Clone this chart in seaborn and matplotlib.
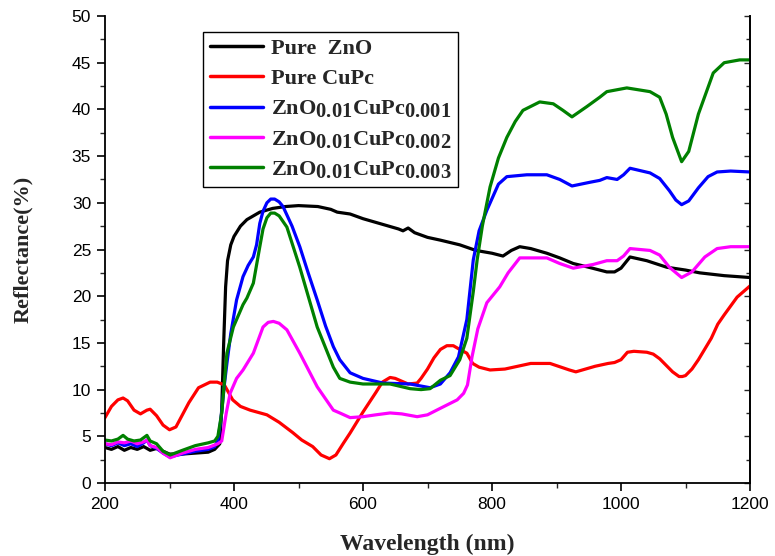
import matplotlib
matplotlib.use("Agg")
import matplotlib.pyplot as plt
import matplotlib._mathtext as _mt
import seaborn as sns
import pandas as pd
from matplotlib.ticker import MultipleLocator

# ---------------- data ----------------
labels = ["Pure  ZnO", "Pure CuPc",
          r"ZnO$_{\mathrm{0.01}}$CuPc$_{\mathrm{0.001}}$",
          r"ZnO$_{\mathrm{0.01}}$CuPc$_{\mathrm{0.002}}$",
          r"ZnO$_{\mathrm{0.01}}$CuPc$_{\mathrm{0.003}}$"]
colors = ["#000000", "#ff0000", "#0000ff", "#ff00ff", "#008000"]

zno_x = [200, 210, 220, 230, 240, 250, 260, 270, 280, 290, 300, 320, 340, 360, 370, 378,
         381, 384, 387, 390, 395, 400, 410, 420, 440, 460, 480, 500, 530, 550, 560, 580,
         600, 620, 640, 655, 662, 670, 680, 700, 720, 750, 775, 800, 817, 830, 843, 860,
         885, 905, 926, 950, 978, 990, 1000, 1014, 1040, 1071, 1100, 1122, 1160, 1200]
zno_y = [3.8, 3.6, 3.9, 3.5, 3.8, 3.6, 3.9, 3.5, 3.7, 3.4, 3.1, 3.1, 3.2, 3.3, 3.6, 4.2,
         8.0, 15.0, 21.0, 23.8, 25.5, 26.4, 27.5, 28.2, 29.0, 29.4, 29.6, 29.7, 29.6, 29.3, 29.0, 28.8,
         28.3, 27.9, 27.5, 27.2, 27.0, 27.3, 26.8, 26.3, 26.0, 25.5, 24.9, 24.6, 24.3, 24.9, 25.3, 25.1,
         24.6, 24.1, 23.5, 23.1, 22.6, 22.6, 23.0, 24.2, 23.8, 23.1, 22.8, 22.5, 22.2, 22.0]

cupc_x = [200, 210, 220, 228, 235, 245, 255, 265, 270, 280, 290, 300, 310, 320, 330, 345,
          363, 374, 385, 398, 410, 425, 451, 470, 491, 505, 522, 535, 548, 558, 570, 580,
          600, 620, 630, 642, 650, 660, 670, 684, 690, 700, 710, 720, 730, 740, 750, 761,
          770, 780, 797, 820, 840, 860, 890, 920, 930, 940, 960, 980, 990, 1000, 1005, 1010,
          1020, 1040, 1050, 1060, 1070, 1080, 1090, 1095, 1100, 1110, 1120, 1140, 1150, 1160,
          1180, 1200]
cupc_y = [7.0, 8.2, 8.9, 9.1, 8.8, 7.8, 7.4, 7.8, 7.9, 7.2, 6.2, 5.7, 6.0, 7.3, 8.6, 10.2,
          10.8, 10.8, 10.5, 8.9, 8.2, 7.8, 7.3, 6.5, 5.4, 4.6, 3.9, 3.0, 2.6, 3.0, 4.3, 5.35,
          7.6, 9.7, 10.8, 11.3, 11.2, 10.9, 10.6, 10.7, 11.2, 12.2, 13.4, 14.3, 14.7, 14.7, 14.3, 13.9,
          12.8, 12.4, 12.1, 12.2, 12.5, 12.8, 12.8, 12.1, 11.9, 12.1, 12.5, 12.8, 12.9, 13.2, 13.6, 14.0,
          14.1, 14.0, 13.8, 13.3, 12.6, 11.9, 11.4, 11.4, 11.5, 12.2, 13.2, 15.5, 17.0, 18.0,
          19.9, 21.1]

s001_x = [200, 210, 220, 230, 240, 250, 260, 265, 270, 280, 290, 300, 320, 340, 360, 370,
          375, 380, 385, 389, 395, 404, 414, 422, 430, 435, 440, 445, 451, 457, 463, 470,
          476, 490, 502, 515, 529, 542, 554, 564, 580, 600, 631, 673, 704, 720, 735, 748,
          761, 771, 780, 792, 801, 810, 823, 854, 885, 905, 924, 952, 967, 978, 994, 1004,
          1014, 1045, 1060, 1075, 1085, 1094, 1105, 1120, 1135, 1149, 1170, 1200]
s001_y = [4.2, 4.0, 4.3, 4.0, 4.2, 3.9, 4.3, 4.6, 4.0, 3.7, 3.2, 2.8, 3.1, 3.4, 3.6, 3.9,
          4.5, 7.0, 10.5, 12.8, 16.0, 19.6, 22.1, 23.3, 24.2, 25.5, 27.8, 29.1, 30.0, 30.4, 30.4, 30.1,
          29.6, 27.5, 25.3, 22.5, 19.6, 16.8, 14.6, 13.2, 11.8, 11.2, 10.7, 10.6, 10.2, 10.6, 11.8, 13.5,
          17.5, 23.9, 27.0, 29.2, 30.6, 32.0, 32.8, 33.0, 33.0, 32.5, 31.8, 32.2, 32.4, 32.7, 32.5, 33.0,
          33.7, 33.2, 32.6, 31.3, 30.3, 29.8, 30.2, 31.6, 32.8, 33.3, 33.4, 33.3]

s002_x = [200, 210, 220, 230, 240, 250, 260, 265, 270, 280, 290, 301, 320, 340, 360, 375,
          381, 388, 394, 404, 414, 430, 445, 453, 461, 470, 482, 502, 529, 554, 564, 580,
          600, 620, 642, 660, 684, 700, 720, 746, 756, 762, 769, 778, 792, 812, 825, 843,
          885, 905, 926, 957, 978, 994, 1004, 1014, 1045, 1060, 1075, 1094, 1110, 1130, 1149,
          1170, 1200]
s002_y = [4.2, 4.1, 4.4, 4.3, 4.5, 4.2, 4.4, 4.6, 4.0, 3.8, 3.2, 2.7, 3.2, 3.6, 3.8, 4.2,
          4.5, 7.5, 9.6, 11.2, 12.1, 13.9, 16.7, 17.2, 17.3, 17.1, 16.4, 13.9, 10.3, 7.8, 7.5, 7.0,
          7.1, 7.3, 7.5, 7.4, 7.1, 7.3, 8.0, 8.9, 9.6, 10.5, 13.5, 16.5, 19.3, 21.0, 22.5, 24.1,
          24.1, 23.5, 23.0, 23.4, 23.8, 23.8, 24.3, 25.1, 24.9, 24.4, 23.1, 22.0, 22.6, 24.2, 25.1,
          25.3, 25.3]

s003_x = [200, 210, 220, 228, 235, 245, 255, 265, 270, 280, 290, 301, 320, 340, 360, 370,
          375, 381, 389, 399, 414, 420, 430, 440, 445, 451, 457, 463, 470, 482, 502, 529,
          554, 564, 580, 600, 642, 673, 690, 704, 720, 735, 750, 761, 771, 777, 785, 797,
          810, 823, 836, 848, 874, 895, 910, 924, 947, 967, 978, 1009, 1045, 1060, 1070, 1080,
          1094, 1105, 1120, 1143, 1160, 1184, 1200]
s003_y = [4.6, 4.5, 4.7, 5.1, 4.7, 4.5, 4.6, 5.1, 4.5, 4.2, 3.4, 3.0, 3.5, 4.0, 4.3, 4.5,
          5.0, 7.5, 13.9, 16.7, 19.1, 19.8, 21.4, 25.3, 27.2, 28.4, 28.9, 28.9, 28.6, 27.4, 23.1, 16.7,
          12.4, 11.2, 10.8, 10.6, 10.6, 10.1, 10.0, 10.1, 11.0, 11.5, 13.2, 15.5, 20.5, 23.9, 27.5, 31.7,
          34.8, 37.0, 38.7, 39.9, 40.8, 40.6, 39.9, 39.2, 40.3, 41.3, 41.9, 42.3, 41.9, 41.3, 39.5, 37.0,
          34.4, 35.5, 39.5, 43.9, 45.0, 45.3, 45.3]

series_x = [zno_x, cupc_x, s001_x, s002_x, s003_x]
series_y = [zno_y, cupc_y, s001_y, s002_y, s003_y]

x_ticks = [200, 400, 600, 800, 1000, 1200]
y_ticks = [0, 5, 10, 15, 20, 25, 30, 35, 40, 45, 50]

# ---------------- style ----------------
sns.set_style("ticks")
plt.rcParams["font.family"] = ["Liberation Sans", "DejaVu Sans"]
plt.rcParams["mathtext.fontset"] = "custom"
plt.rcParams["mathtext.rm"] = "Liberation Serif:bold"
plt.rcParams["mathtext.bf"] = "Liberation Serif:bold"
plt.rcParams["mathtext.it"] = "Liberation Serif:bold:italic"
_mt.SHRINK_FACTOR = 0.92  # subscripts nearly full size as in the reference

fig = plt.figure(figsize=(7.75, 5.56), dpi=100)
ax = fig.add_axes([105 / 775, 1 - 483 / 556, 645 / 775, 467 / 556])

for lab, col, xs, ys in zip(labels, colors, series_x, series_y):
    df = pd.DataFrame({"Wavelength": xs, "Reflectance": ys})
    sns.lineplot(data=df, x="Wavelength", y="Reflectance", ax=ax, color=col,
                 linewidth=2.3, label=lab, estimator=None, sort=False)

ax.set_xlim(200, 1200)
ax.set_ylim(0, 50)
ax.set_xticks(x_ticks)
ax.set_yticks(y_ticks)
ax.xaxis.set_minor_locator(MultipleLocator(100))
ax.yaxis.set_minor_locator(MultipleLocator(2.5))

for s in ["left", "bottom", "right"]:
    ax.spines[s].set_visible(True)
    ax.spines[s].set_linewidth(1.3)
    ax.spines[s].set_color("black")
ax.spines["top"].set_visible(False)

ax.tick_params(axis="both", which="major", direction="out", length=6, width=1.2,
               labelsize=12.5, colors="black", pad=4)
ax.tick_params(axis="both", which="minor", direction="out", length=3.5, width=1.0)
ax.tick_params(axis="y", which="both", right=False)

# right-side inward ticks
ax_r = ax.secondary_yaxis("right")
ax_r.set_yticks(y_ticks)
ax_r.yaxis.set_minor_locator(MultipleLocator(2.5))
ax_r.tick_params(which="major", direction="in", length=4, width=1.0, labelright=False)
ax_r.tick_params(which="minor", direction="in", length=3, width=1.0)
ax_r.spines["right"].set_linewidth(1.3)

ax.set_xlabel("Wavelength (nm)", fontsize=17, fontweight="bold",
              family="Liberation Serif", labelpad=16)
ax.set_ylabel("Reflectance(%)", fontsize=16, fontweight="bold",
              family="Liberation Serif", labelpad=28)

leg = ax.legend(loc="upper left", bbox_to_anchor=(0.152, 0.966), borderaxespad=0,
                frameon=True, fancybox=False, edgecolor="black", framealpha=1,
                prop={"family": "Liberation Serif", "weight": "bold", "size": 16},
                handlelength=2.4, handletextpad=0.35, labelspacing=0.42,
                borderpad=0.3)
leg.get_frame().set_linewidth(1.0)
for h in leg.get_lines():
    h.set_linewidth(2.5)

fig.savefig("out.png", dpi=100)
